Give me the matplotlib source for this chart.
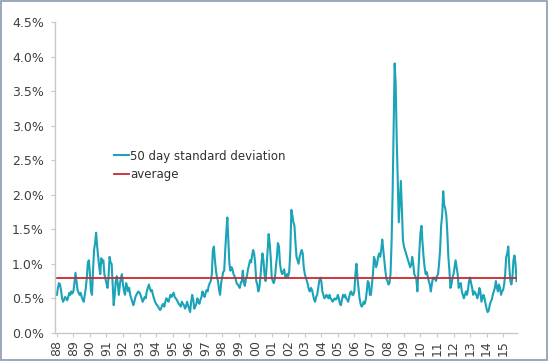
import numpy as np
import matplotlib
matplotlib.use("Agg")
import matplotlib.pyplot as plt
from matplotlib.patches import Rectangle

# 50-day standard deviation (%), 16 readings per year, from 1988
vol_pct = [
    # 1988
    0.55,0.65,0.72,0.70,0.62,0.50,0.45,0.48,0.52,0.50,0.47,0.52,0.58,0.55,0.60,0.57,
    # 1989
    0.60,0.72,0.87,0.75,0.62,0.58,0.55,0.58,0.52,0.48,0.45,0.55,0.65,0.80,1.02,1.05,
    # 1990
    0.85,0.60,0.55,0.90,1.20,1.30,1.45,1.25,1.10,0.95,0.85,1.08,1.02,1.05,0.85,0.78,
    # 1991
    0.72,0.65,0.80,1.10,1.02,1.00,0.70,0.40,0.55,0.75,0.82,0.70,0.55,0.70,0.80,0.85,
    # 1992
    0.70,0.60,0.55,0.72,0.68,0.60,0.65,0.55,0.50,0.45,0.40,0.45,0.52,0.55,0.58,0.60,
    # 1993
    0.58,0.55,0.50,0.45,0.48,0.52,0.50,0.60,0.65,0.70,0.65,0.60,0.62,0.55,0.50,0.45,
    # 1994
    0.42,0.40,0.38,0.35,0.33,0.36,0.40,0.42,0.38,0.45,0.50,0.48,0.45,0.50,0.55,0.52,
    # 1995
    0.55,0.58,0.52,0.50,0.48,0.45,0.42,0.40,0.38,0.45,0.42,0.40,0.35,0.38,0.45,0.40,
    # 1996
    0.35,0.30,0.45,0.55,0.48,0.35,0.38,0.42,0.50,0.45,0.42,0.48,0.52,0.60,0.55,0.52,
    # 1997
    0.58,0.62,0.60,0.68,0.72,0.75,0.85,1.20,1.25,1.05,0.90,0.80,0.75,0.62,0.55,0.72,
    # 1998
    0.80,0.88,0.90,1.20,1.45,1.67,1.35,1.00,0.90,0.95,0.92,0.85,0.82,0.78,0.72,0.70,
    # 1999
    0.68,0.65,0.72,0.75,0.90,0.72,0.68,0.78,0.82,0.92,0.98,1.05,1.02,1.12,1.20,1.15,
    # 2000
    1.00,0.75,0.70,0.60,0.65,0.80,1.00,1.15,1.05,0.85,0.75,0.95,1.20,1.43,1.30,1.10,
    # 2001
    0.80,0.75,0.72,0.78,0.95,1.10,1.30,1.25,1.00,0.90,0.85,0.88,0.92,0.82,0.80,0.85,
    # 2002
    0.82,0.90,1.20,1.78,1.70,1.60,1.55,1.30,1.10,1.05,1.00,1.10,1.15,1.20,1.15,0.95,
    # 2003
    0.85,0.80,0.75,0.70,0.62,0.60,0.65,0.62,0.55,0.48,0.45,0.52,0.55,0.65,0.75,0.80,
    # 2004
    0.75,0.60,0.55,0.50,0.52,0.55,0.52,0.50,0.55,0.50,0.48,0.45,0.48,0.50,0.48,0.50,
    # 2005
    0.55,0.50,0.42,0.40,0.48,0.55,0.52,0.55,0.50,0.48,0.45,0.52,0.58,0.60,0.55,0.55,
    # 2006
    0.60,0.85,1.00,0.80,0.65,0.50,0.42,0.38,0.40,0.45,0.42,0.48,0.60,0.75,0.72,0.55,
    # 2007
    0.55,0.70,0.85,1.10,1.05,0.95,1.00,1.10,1.15,1.10,1.20,1.35,1.20,1.05,0.90,0.78,
    # 2008
    0.75,0.70,0.72,0.85,1.30,2.00,3.00,3.90,3.60,2.80,2.20,1.60,1.90,2.20,1.80,1.35,
    # 2009
    1.25,1.20,1.15,1.10,1.05,1.00,0.95,0.98,1.10,1.00,0.85,0.82,0.78,0.60,0.90,1.20,
    # 2010
    1.45,1.55,1.30,1.10,0.95,0.85,0.88,0.82,0.75,0.70,0.60,0.70,0.80,0.78,0.80,0.75,
    # 2011
    0.82,0.85,1.00,1.20,1.55,1.70,2.05,1.85,1.80,1.70,1.45,1.10,0.90,0.65,0.70,0.80,
    # 2012
    0.85,0.95,1.05,0.95,0.85,0.65,0.70,0.72,0.60,0.55,0.50,0.55,0.60,0.55,0.62,0.75,
    # 2013
    0.80,0.72,0.65,0.55,0.60,0.58,0.55,0.50,0.55,0.65,0.60,0.45,0.50,0.55,0.50,0.42,
    # 2014
    0.35,0.30,0.32,0.40,0.45,0.48,0.55,0.60,0.65,0.75,0.65,0.60,0.70,0.65,0.55,0.60,
    # 2015
    0.62,0.70,0.85,1.10,1.15,1.25,0.95,0.75,0.70,0.80,1.05,1.12,1.00,0.75,
]
average_pct = 0.8
start_year = 1988
per_year = 16
year_labels = [f"{y % 100:02d}" for y in range(1988, 2016)]
y_ticks = [0.0, 0.5, 1.0, 1.5, 2.0, 2.5, 3.0, 3.5, 4.0, 4.5]

t = start_year + np.arange(len(vol_pct)) / per_year

fig = plt.figure(figsize=(5.49, 3.61), dpi=100)
ax = fig.add_axes([0.100, 0.078, 0.842, 0.861])

ax.plot(t, vol_pct, color="#1ba3b8", lw=1.5, label="50 day standard deviation")
ax.plot([t[0], t[-1]], [average_pct, average_pct], color="#c8282d", lw=1.3, label="average")

ax.set_ylim(0, 4.5)
ax.set_xlim(1987.88, 2015.85)
ax.set_yticks(y_ticks)
ax.set_yticklabels([f"{v:.1f}%" for v in y_ticks])
ax.set_xticks(np.arange(1988, 2016))
ax.set_xticklabels(year_labels, rotation=90)

for s in ["top", "right"]:
    ax.spines[s].set_visible(False)
for s in ["left", "bottom"]:
    ax.spines[s].set_color("#c8c8c8")
    ax.spines[s].set_linewidth(1.0)
ax.tick_params(axis="both", colors="#c8c8c8", labelcolor="#404040", labelsize=9, length=3)
ax.tick_params(axis="x", pad=2)
ax.tick_params(axis="y", pad=5)

leg = ax.legend(loc="upper left", bbox_to_anchor=(0.117, 0.605), frameon=False,
                fontsize=8.5, handlelength=1.3, handletextpad=0.1, labelspacing=0.45,
                borderaxespad=0)
for txt in leg.get_texts():
    txt.set_color("#303030")

fig.patches.append(Rectangle((0.002, 0.003), 0.995, 0.994, transform=fig.transFigure,
                             fill=False, edgecolor="#8a98b0", lw=1.2))

fig.savefig("out.png", dpi=100)
